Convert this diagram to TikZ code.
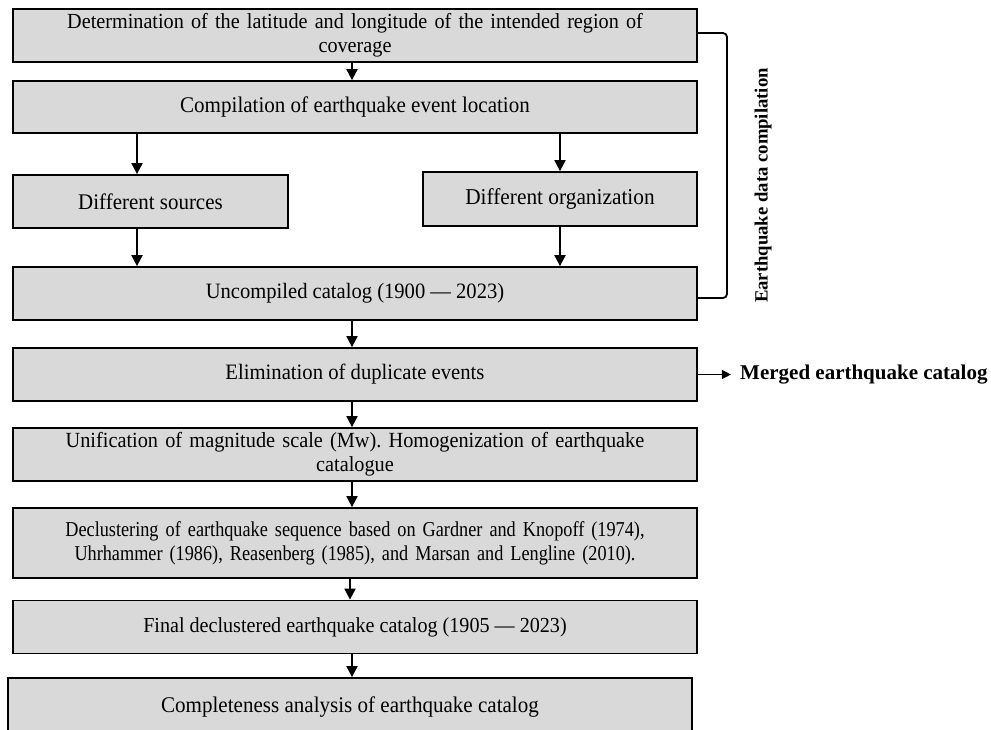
\documentclass[tikz,border=0pt]{standalone}
\usepackage{fontspec}
\setmainfont{Liberation Serif}
\newfontfamily\nfont[FakeStretch=0.94]{Liberation Serif}
\newfontfamily\cfont[FakeStretch=0.86]{Liberation Serif}
\usetikzlibrary{arrows.meta,calc}
\begin{document}
\frenchspacing
\begin{tikzpicture}[x=1pt,y=-1pt,
  box/.style={draw=black,line width=1.8pt,fill=boxgray,rectangle,inner sep=0pt,
    align=center},
  fs/.style={font=\nfont\fontsize{#1}{24}\selectfont},
  cfs/.style={font=\cfont\fontsize{#1}{24}\selectfont},
  arr/.style={line width=2pt,-{Triangle[width=11pt,length=11pt]}},
  lbl/.style={inner sep=0pt}]
\definecolor{boxgray}{HTML}{D9D9D9}
\useasboundingbox (0,0) rectangle (991,729);
\clip (0,0) rectangle (991,729);
\node[box,fs=21.5,minimum width=684,minimum height=53,text width=680] (b1) at (355,35.5)
  {Determination of the latitude and longitude of the intended region of\\coverage};
\node[box,fs=22.4,minimum width=684,minimum height=52] (b2) at (355,107)
  {Compilation of earthquake event location};
\node[box,fs=22.3,minimum width=275,minimum height=53] (ds) at (150.5,201.5)
  {Different sources};
\node[box,fs=22.7,minimum width=274,minimum height=54] (do) at (560,199)
  {Different organization};
\node[box,fs=21.9,minimum width=684,minimum height=53] (b4) at (355,293.5)
  {Uncompiled catalog (1900 \textemdash\ 2023)};
\node[box,fs=22,minimum width=684,minimum height=53] (b5) at (355,374.5)
  {Elimination of duplicate events};
\node[box,fs=21.6,minimum width=684,minimum height=53,text width=680] (b6) at (355,454.5)
  {Unification of magnitude scale (Mw). Homogenization of earthquake\\catalogue};
\node[box,cfs=21.2,minimum width=684,minimum height=70,text width=680] (b7) at (355,543)
  {Declustering of earthquake sequence based on Gardner and Knopoff (1974),\\Uhrhammer (1986), Reasenberg (1985), and Marsan and Lengline (2010).};
\node[box,fs=21.4,minimum width=684,minimum height=53] (b8) at (355,627)
  {Final declustered earthquake catalog (1905 \textemdash\ 2023)};
\node[box,fs=22.4,minimum width=684,minimum height=58] (b9) at (350,707)
  {Completeness analysis of earthquake catalog};
% arrows
\coordinate (c1) at ([xshift=-3]b1.south);
\draw[arr] (c1) -- (c1 |- b2.north);
\coordinate (cl) at ([xshift=-13.5]ds.north);
\draw[arr] (cl |- b2.south) -- (cl);
\draw[arr] (do.north |- b2.south) -- (do.north);
\coordinate (cl2) at ([xshift=-13.5]ds.south);
\draw[arr] (cl2) -- (cl2 |- b4.north);
\draw[arr] (do.south) -- (do.south |- b4.north);
\coordinate (c4) at ([xshift=-3]b4.south);
\draw[arr] (c4) -- (c4 |- b5.north);
\coordinate (c5) at ([xshift=-3]b5.south);
\draw[arr] (c5) -- (c5 |- b6.north);
\coordinate (c6) at ([xshift=-3]b6.south);
\draw[arr] (c6) -- (c6 |- b7.north);
\coordinate (c7) at ([xshift=-5]b7.south);
\draw[arr] (c7) -- (c7 |- b8.north);
\coordinate (c8) at ([xshift=-3]b8.south);
\draw[arr] (c8) -- (c8 |- b9.north);
% bracket
\coordinate (br1) at ([yshift=2.5]b1.east);
\coordinate (br2) at ([yshift=-4.5]b4.east);
\draw[line width=1.8pt,rounded corners=4] (br1) -- (727,0 |- br1) -- (727,0 |- br2) -- (br2);
\node[lbl,rotate=90,font=\fontsize{18.7}{22}\selectfont\bfseries] (lab) at (763,185.5) {Earthquake data compilation};
% merged
\node[lbl,anchor=west,font=\fontsize{21}{24}\selectfont\bfseries] (mg) at (740,374.5) {Merged earthquake catalog};
\draw[line width=1.4pt,-{Triangle[width=9pt,length=9pt]}] (b5.east) -- ++(33,0);
\end{tikzpicture}
\end{document}
